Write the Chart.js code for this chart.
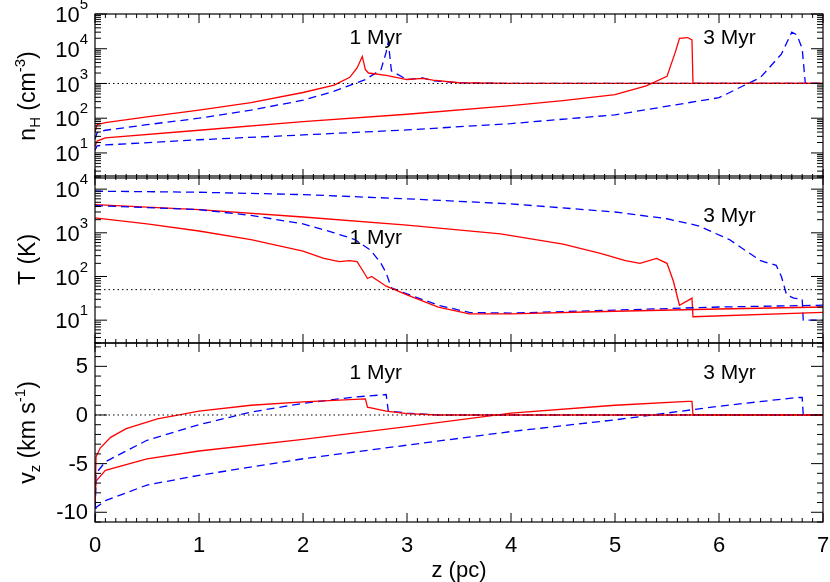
<!DOCTYPE html>
<html><head><meta charset="utf-8">
<script src="https://cdn.jsdelivr.net/npm/chart.js@4/dist/chart.umd.min.js"></script>
<style>body{margin:0;background:#fff;width:830px;height:582px;position:relative;overflow:hidden}
.p{position:absolute;left:0;width:830px}</style></head><body>
<div class="p" style="top:0px;height:186px"><canvas id="c1"></canvas></div>
<div class="p" style="top:168px;height:183px"><canvas id="c2"></canvas></div>
<div class="p" style="top:335px;height:247px"><canvas id="c3"></canvas></div>
<script>
// ---- data ----
const xTicks=[0,1,2,3,4,5,6,7];
const nTicks=[10,100,1000,10000,100000];
const tTicks=[10,100,1000,10000];
const vTicks=[-10,-5,0,5];
// density panel
const nRed1Z=[0,0.02,0.1,0.5,1,1.5,2,2.3,2.45,2.52,2.57,2.6,2.63,2.8,3.0,3.15,3.25,3.5,4,7];
const nRed1=[40,65,75,110,170,280,550,900,1500,2800,6000,2500,2000,1700,1300,1400,1250,1050,1000,1000];
const nBlue1Z=[0,0.02,0.1,0.5,1,1.5,2,2.3,2.6,2.75,2.8,2.82,2.85,3.0,3.15,3.25,3.5,4,7];
const nBlue1=[25,38,45,65,100,170,330,600,1300,2500,8000,16000,2300,1300,1450,1200,1050,1000,1000];
const nRed3Z=[0,0.02,0.1,1,2,3,4,4.5,5,5.3,5.5,5.58,5.62,5.7,5.74,5.75,7];
const nRed3=[15,22,27,45,80,130,230,320,480,850,1600,8000,20000,21000,18000,1000,1000];
const nBlue3Z=[0,0.02,0.1,1,2,3,4,5,6,6.4,6.6,6.7,6.75,6.8,6.83,7];
const nBlue3=[12,16,17,24,33,46,70,125,390,1500,7000,30000,25000,10000,1000,1000];
// temperature panel
const tRed1Z=[0,0.5,1,1.5,2,2.2,2.35,2.45,2.52,2.58,2.62,2.66,2.8,3.0,3.3,3.6,4,5,6,7];
const tRed1=[2200,1600,1100,700,380,260,220,230,220,130,90,100,60,38,20,14,14,16,18,20];
const tBlue1Z=[0,1,1.5,2,2.3,2.5,2.65,2.75,2.8,2.85,3.0,3.3,3.6,4,5,6,7];
const tBlue1=[4200,3400,2500,1600,1000,700,400,200,120,55,40,22,15,14.5,17,20,22];
const tRed3Z=[0,1,2,3,3.9,4.5,4.86,5.1,5.24,5.4,5.5,5.56,5.62,5.7,5.74,5.75,7];
const tRed3=[4400,3400,2300,1500,950,550,340,230,200,260,200,80,22,28,32,12,15];
const tBlue3Z=[0,1,2,3,4,5,5.5,5.8,6.1,6.4,6.55,6.6,6.65,6.72,6.8,6.81,7];
const tBlue3=[9000,8500,7500,6000,4600,3000,2100,1450,700,230,180,100,38,32,30,10,10];
// velocity panel
const vRed1Z=[0,0.01,0.05,0.15,0.3,0.6,1,1.5,2,2.5,2.6,2.62,2.8,3.0,3.3,7];
const vRed1=[-9,-4.3,-3.4,-2.3,-1.4,-0.4,0.4,1.0,1.35,1.6,1.65,0.8,0.4,0.15,0,0];
const vBlue1Z=[0,0.01,0.1,0.5,1,1.5,2,2.5,2.8,2.82,3.0,3.3,7];
const vBlue1=[-11,-6,-4.8,-2.6,-1.0,0.3,1.2,1.85,2.1,0.4,0.2,0,0];
const vRed3Z=[0,0.01,0.1,0.5,1,2,3,4,5,5.7,5.74,5.75,7];
const vRed3=[-9,-6.8,-5.7,-4.5,-3.7,-2.5,-1.2,0.2,1.0,1.4,1.4,0,0];
const vBlue3Z=[0,0.01,0.1,0.5,1,2,3,4,5,6,6.5,6.75,6.8,6.81,7];
const vBlue3=[-11,-9.5,-8.8,-7.2,-6.2,-4.5,-3.1,-1.7,-0.5,0.9,1.5,1.8,1.8,0,0];

const FONT='"Liberation Sans", Arial, sans-serif';
const pts=(z,v)=>z.map((x,i)=>({x,y:v[i]}));
const ds=(z,v,blue)=>({data:pts(z,v),borderColor:blue?'#0000ff':'#ff0000',borderWidth:1.3,borderDash:blue?[8,5]:[],pointRadius:0,tension:0,fill:false});

function framePlugin(cfg){return{id:'frame',afterDraw(ch){
  const c=ch.ctx,a=ch.chartArea,xs=ch.scales.x,ys=ch.scales.y;
  c.save();
  if(cfg.ref!==undefined){const y=ys.getPixelForValue(cfg.ref);c.strokeStyle='#000';c.lineWidth=1;c.setLineDash([1.5,3]);c.beginPath();c.moveTo(a.left,y);c.lineTo(a.right,y);c.stroke();c.setLineDash([]);}
  c.strokeStyle='#000';c.lineWidth=1.2;c.strokeRect(a.left,a.top,a.right-a.left,a.bottom-a.top);
  c.lineWidth=1;c.beginPath();
  for(let i=0;i<=70;i++){const v=i/10,x=xs.getPixelForValue(v),L=(i%10===0)?9:4;
    c.moveTo(x,a.bottom);c.lineTo(x,a.bottom-L);c.moveTo(x,a.top);c.lineTo(x,a.top+L);}
  const yt=(v,L)=>{const y=ys.getPixelForValue(v);if(y<a.top-0.5||y>a.bottom+0.5)return;c.moveTo(a.left,y);c.lineTo(a.left+L,y);c.moveTo(a.right,y);c.lineTo(a.right-L,y);};
  if(cfg.log){for(let e=-1;e<=6;e++)for(let m=1;m<10;m++)yt(m*Math.pow(10,e),m===1?12:6);}
  else{for(let v=-12;v<=8;v++)yt(v,v%5===0?12:6);}
  c.stroke();
  c.fillStyle='#000';c.textAlign='right';c.textBaseline='middle';
  cfg.ticks.forEach(v=>{const y=ys.getPixelForValue(v);
    if(cfg.log){const e=Math.round(Math.log10(v));c.font='15px '+FONT;const sw=c.measureText(String(e)).width;
      c.textAlign='left';c.fillText(String(e),88-sw,y-9);
      c.font='22px '+FONT;c.textAlign='right';c.fillText('10',88-sw,y+2);}
    else{c.font='22px '+FONT;c.fillText(String(v),88,y+1);}});
  if(cfg.xlabels){c.textAlign='center';c.textBaseline='top';c.font='22px '+FONT;
    xTicks.forEach(v=>c.fillText(String(v),xs.getPixelForValue(v),a.bottom+13));
    c.fillText('z (pc)',xs.getPixelForValue(3.5),a.bottom+38);}
  c.font='21px '+FONT;c.textAlign='center';c.textBaseline='middle';
  cfg.notes.forEach(n=>c.fillText(n[0],xs.getPixelForValue(n[1]),a.top+n[2]));
  c.translate(28,(a.top+a.bottom)/2);c.rotate(-Math.PI/2);
  const parts=cfg.title;let w=0;parts.forEach(p=>{c.font=(p[1]?'15px ':'23px ')+FONT;w+=c.measureText(p[0]).width;});
  let x=-w/2;c.textAlign='left';c.textBaseline='middle';
  parts.forEach(p=>{c.font=(p[1]?'15px ':'23px ')+FONT;const dy=p[1]==='sub'?7:p[1]==='sup'?-8:0;c.fillText(p[0],x,dy+1);x+=c.measureText(p[0]).width;});
  c.restore();}};}

function make(id,sets,y,cfg,bottomH,padTop){
  new Chart(document.getElementById(id),{type:'line',data:{datasets:sets},
    options:{animation:false,responsive:true,maintainAspectRatio:false,
      layout:{padding:{top:padTop,right:7,bottom:bottomH?0:8,left:0}},
      plugins:{legend:{display:false},tooltip:{enabled:false}},
      scales:{x:{type:'linear',min:0,max:7,display:true,grid:{display:false},border:{display:false},
          ticks:{display:false},afterFit:s=>{s.height=bottomH||0;}},
        y:Object.assign({grid:{display:false},border:{display:false},ticks:{display:false},afterFit:s=>{s.width=95;}},y)}},
    plugins:[framePlugin(cfg)]});
}
make('c1',[ds(nRed1Z,nRed1),ds(nBlue1Z,nBlue1,1),ds(nRed3Z,nRed3),ds(nBlue3Z,nBlue3,1)],
  {type:'logarithmic',min:1.9,max:100000},
  {log:true,ticks:nTicks,ref:1000,notes:[['1 Myr',2.7,24],['3 Myr',6.1,24]],
   title:[['n'],['H','sub'],[' (cm'],['-3','sup'],[')']]},0,14);
make('c2',[ds(tRed1Z,tRed1),ds(tBlue1Z,tBlue1,1),ds(tRed3Z,tRed3),ds(tBlue3Z,tBlue3,1)],
  {type:'logarithmic',min:3,max:20000},
  {log:true,ticks:tTicks,ref:50,notes:[['3 Myr',6.1,40],['1 Myr',2.7,62]],
   title:[['T (K)']]},0,8);
make('c3',[ds(vRed1Z,vRed1),ds(vBlue1Z,vBlue1,1),ds(vRed3Z,vRed3),ds(vBlue3Z,vBlue3,1)],
  {type:'linear',min:-11,max:7.4},
  {log:false,ticks:vTicks,ref:0,xlabels:true,notes:[['1 Myr',2.7,30],['3 Myr',6.1,30]],
   title:[['v'],['z','sub'],[' (km s'],['-1','sup'],[')']]},60,8);
</script></body></html>
